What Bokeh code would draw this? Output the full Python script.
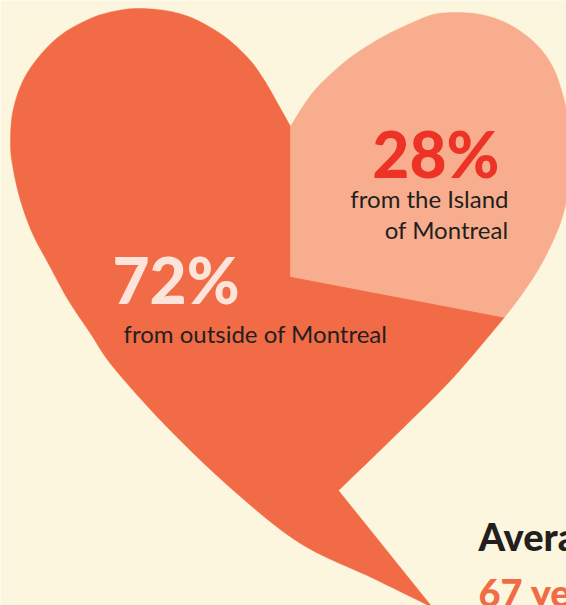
import numpy as np
from bokeh.plotting import figure
from bokeh.models import Range1d
from bokeh.embed import file_html
from bokeh.resources import INLINE
from bokeh.core.properties import value

# ---------------- data ----------------
categories = ["from outside of Montreal", "from the Island of Montreal"]
shares = [72, 28]                      # percent
share_labels = ["72%", "28%"]
desc_lines = [["from outside of Montreal"], ["from the Island", "of Montreal"]]
side_title = "Average age"
side_value = "67 years old"

# ---------------- style ----------------
BG = "#FBF6DD"
SLICE_COLORS = ["#F26B47", "#F8AE8E"]
PCT_COLORS = ["#FDE4DA", "#EC3325"]
DARK = "#231F20"
FONT = "Lato"
HEAVY = "Lato Black"
BASE_SHIFT = 0.38   # empirical baseline correction (fraction of font size)

W, H = 566, 605
CENTER = (290.0, 276.0)   # pie centre (pixel space, y down)

# heart outline (shape geometry, pixel space): three smooth runs joined at corners
run_right = [(290, 126), (301, 108), (314, 90), (332, 72), (354, 54), (383, 36),
             (412, 22), (433, 14), (455, 12), (480, 14), (505, 22), (527, 36),
             (543, 52), (554, 70), (561, 90), (566, 110), (570, 140), (570, 172),
             (566, 200), (559, 225), (548, 250), (536, 272), (517, 300),
             (493, 330), (450, 380), (400, 430), (338, 490)]
run_tail = [(338, 490), (432, 607)]
run_left = [(432, 607), (373, 578), (300, 543), (233, 490), (167, 427),
            (113, 367), (90, 333), (68, 300), (50, 267), (32, 233), (20, 200),
            (13, 170), (10, 144), (13, 108), (27, 72), (56, 38), (90, 18),
            (118, 10), (141, 8), (170, 11), (195, 19), (224, 36), (248, 58),
            (264, 80), (280, 108), (290, 126)]


def catmull(points, n=10):
    pts = [np.array(p, float) for p in points]
    out = []
    for i in range(len(pts) - 1):
        p0 = pts[i - 1] if i > 0 else pts[i]
        p1, p2 = pts[i], pts[i + 1]
        p3 = pts[i + 2] if i + 2 < len(pts) else pts[i + 1]
        for t in np.linspace(0, 1, n, endpoint=False):
            t2, t3 = t * t, t * t * t
            q = 0.5 * ((2 * p1) + (-p0 + p2) * t + (2 * p0 - 5 * p1 + 4 * p2 - p3) * t2
                       + (-p0 + 3 * p1 - 3 * p2 + p3) * t3)
            out.append((float(q[0]), float(q[1])))
    return out


outline = catmull(run_right) + [run_tail[0]] + catmull(run_left)
# math coordinates (y up) for angle work
om = [(x, -y) for x, y in outline]
cm = (CENTER[0], -CENTER[1])


def ray_hit(angle_deg):
    d = (np.cos(np.radians(angle_deg)), np.sin(np.radians(angle_deg)))
    best = None
    n = len(om)
    for i in range(n):
        a, b = om[i], om[(i + 1) % n]
        e = (b[0] - a[0], b[1] - a[1])
        den = d[0] * (-e[1]) - d[1] * (-e[0])
        if abs(den) < 1e-12:
            continue
        rx, ry = a[0] - cm[0], a[1] - cm[1]
        s = (rx * (-e[1]) - ry * (-e[0])) / den
        t = (d[0] * ry - d[1] * rx) / den
        if s > 1e-9 and -1e-9 <= t < 1 - 1e-9:
            if best is None or s < best[0]:
                best = (s, i, (a[0] + t * e[0], a[1] + t * e[1]))
    return best[1], best[2]


def arc(i1, p1, i2, p2):
    n = len(om)
    pts = [p1]
    k = (i1 + 1) % n
    while True:
        pts.append(om[k])
        if k == i2:
            break
        k = (k + 1) % n
    pts.append(p2)
    return pts


# slice boundaries: start at 12 o'clock, island slice runs clockwise
island_deg = shares[1] / sum(shares) * 360.0
a_start = 90.0
a_end = 90.0 - island_deg
iA, pA = ray_hit(a_start)
iB, pB = ray_hit(a_end)
arc1 = arc(iA, pA, iB, pB)
arc2 = arc(iB, pB, iA, pA)


def in_island(pt):
    ang = np.degrees(np.arctan2(pt[1] - cm[1], pt[0] - cm[0]))
    return a_end <= ang <= a_start


mid1 = arc1[len(arc1) // 2]
island_arc, outside_arc = (arc1, arc2) if in_island(mid1) else (arc2, arc1)

p = figure(width=W, height=H, x_range=Range1d(0, W), y_range=Range1d(H, 0),
           output_backend="svg", toolbar_location=None, min_border=0)
p.axis.visible = False
p.grid.visible = False
p.outline_line_color = None
p.background_fill_color = BG
p.border_fill_color = BG

for arcpts, col in [(outside_arc, SLICE_COLORS[0]), (island_arc, SLICE_COLORS[1])]:
    poly = [cm] + arcpts
    p.patch([x for x, y in poly], [-y for x, y in poly], fill_color=col,
            line_color=col, line_width=0.5)


def label(x, y, texts, size, color, align, font=FONT, bold=False, dy=32):
    ys = [y - BASE_SHIFT * size + k * dy for k in range(len(texts))]
    p.text(x=[x] * len(texts), y=ys, text=texts, text_font=value(font),
           text_font_style="bold" if bold else "normal",
           text_font_size=f"{size}px", text_color=color, text_align=align,
           text_baseline="alphabetic")


# percentage labels
label(112, 303, [share_labels[0]], 64, PCT_COLORS[0], "left", font=HEAVY)
label(499, 177, [share_labels[1]], 64, PCT_COLORS[1], "right", font=HEAVY)
# descriptions
label(123, 342, desc_lines[0], 24, DARK, "left")
label(508, 207, desc_lines[1], 24, DARK, "right", dy=31)
# side annotation (cut by the right edge as in the original)
label(478, 550, [side_title], 38, DARK, "left", font=HEAVY)
label(478, 606, [side_value], 38, SLICE_COLORS[0], "left", font=HEAVY)

open("out.html", "w").write(file_html(p, INLINE))
